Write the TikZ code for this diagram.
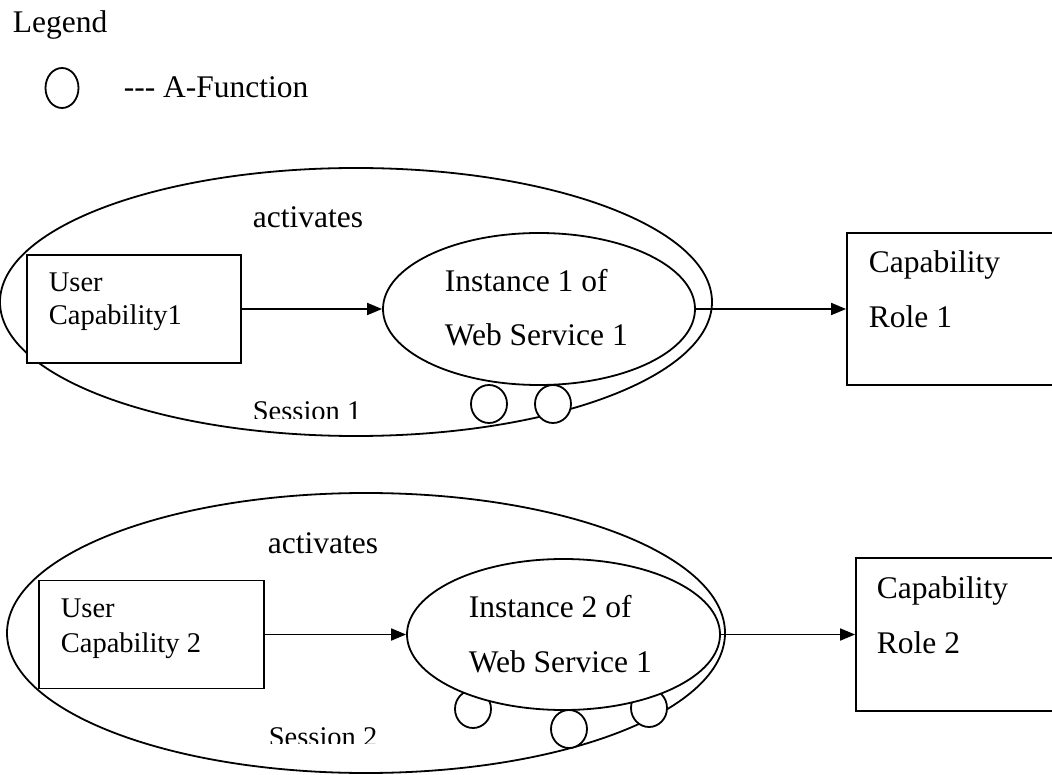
\documentclass[tikz,border=0pt]{standalone}
\usepackage{fontspec}
\setmainfont{Liberation Serif}
\usetikzlibrary{shapes.geometric,arrows.meta}

\begin{document}
\begin{tikzpicture}[x=1pt,y=-1pt,
  line width=1.8pt,
  big/.style={font=\fontsize{31.5}{37}\selectfont, anchor=base west, inner sep=0pt},
  small/.style={font=\fontsize{28.5}{33}\selectfont, anchor=base west, inner sep=0pt},
  session/.style={draw, ellipse, inner sep=0pt},
  wsinst/.style={draw, ellipse, fill=white, inner sep=0pt},
  capbox/.style={draw, rectangle, fill=white, inner sep=0pt},
  afunc/.style={draw, ellipse, fill=white, inner sep=0pt, minimum width=36pt, minimum height=38pt},
  link/.style={-{Triangle[length=15pt,width=12pt]}}
]
\useasboundingbox (0,0) rectangle (1052,775);
\clip (0,0) rectangle (1052,775);

% legend
\node[big] (legend) at (12,33) {Legend};
\node[draw, ellipse, inner sep=0pt, minimum width=33pt, minimum height=40pt] (legcirc) at (62,88) {};
\node[big] (legtext) at (123,98) {\hbox{-}\hbox{-}\hbox{-} A-Function};

% ---------- session 1 ----------
\node[session, minimum width=712pt, minimum height=268pt] (s1) at (356,302) {};
\node[afunc] (a11) at (489,404) {};
\node[afunc] (a12) at (553,404) {};
\node[wsinst, minimum width=312pt, minimum height=152pt] (i1) at (539,309) {};
\node[capbox, minimum width=214pt, minimum height=108pt] (u1) at (134,309) {};
\node[capbox, minimum width=260pt, minimum height=152pt] (r1) at (977,309) {};

\node[big] (act1) at (252,228) {activates};
\node[small] (u1a) at (48,292) {User};
\node[small] (u1b) at (48,325) {Capability1};
\node[big] (i1a) at (444,292) {Instance 1 of};
\node[big] (i1b) at (444,346) {Web Service 1};
\node[big] (r1a) at (868,273) {Capability};
\node[big] (r1b) at (868,328) {Role 1};
\begin{scope}
  \clip (240,390) rectangle (420,418);
  \node[small] (ses1) at (252,420.5) {Session 1};
\end{scope}

\draw[link] (u1.east) -- (i1.west);
\draw[link] (i1.east) -- (r1.west);

% ---------- session 2 ----------
\node[session, minimum width=718pt, minimum height=280pt] (s2) at (366,633) {};
\node[afunc] (a21) at (473,709) {};
\node[afunc] (a22) at (569,729) {};
\node[afunc] (a23) at (649,708) {};
\node[wsinst, minimum width=313pt, minimum height=151pt] (i2) at (563.5,634.5) {};
\node[capbox, minimum width=225pt, minimum height=108pt] (u2) at (151.5,634.5) {};
\node[capbox, minimum width=260pt, minimum height=153pt] (r2) at (986,634.5) {};

\node[big] (act2) at (267,553) {activates};
\node[small] (u2a) at (60,617) {User};
\node[small] (u2b) at (60,652) {Capability 2};
\node[big] (i2a) at (468,617) {Instance 2 of};
\node[big] (i2b) at (468,672) {Web Service 1};
\node[big] (r2a) at (876,598) {Capability};
\node[big] (r2b) at (876,653) {Role 2};
\begin{scope}
  \clip (240,715) rectangle (420,743.5);
  \node[small] (ses2) at (268,746.5) {Session 2};
\end{scope}

\draw[link] (u2.east) -- (i2.west);
\draw[link] (i2.east) -- (r2.west);
\end{tikzpicture}
\end{document}
